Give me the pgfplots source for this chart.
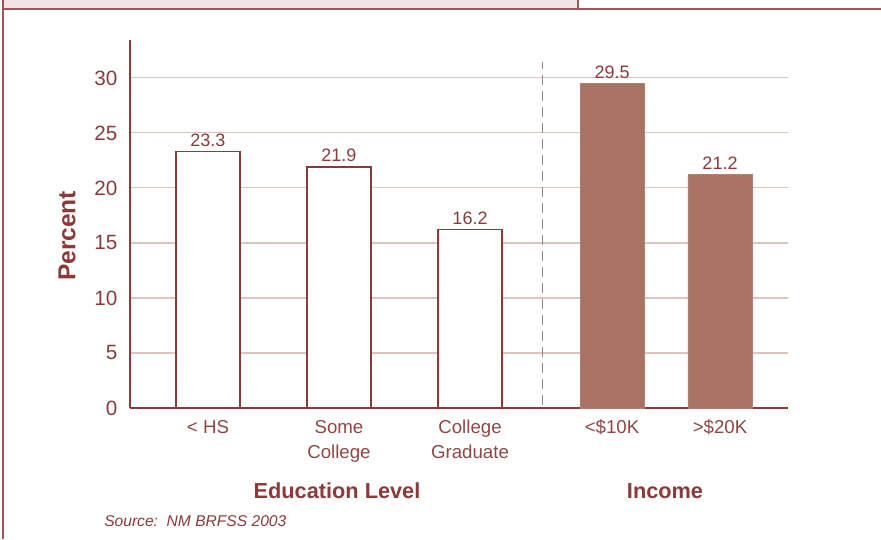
\documentclass[border=0pt]{standalone}
\usepackage{fontspec}
\setmainfont{Liberation Sans}
\usepackage{pgfplots}
\pgfplotsset{compat=1.18}
\definecolor{mred}{HTML}{8B3A3A}
\definecolor{lred}{HTML}{8F4745}
\definecolor{barfill}{HTML}{A87264}
\definecolor{gridc}{HTML}{DEC4BC}
\definecolor{tabfill}{HTML}{EFE3E3}
\definecolor{dashc}{HTML}{9A8484}
\pgfplotsset{/pgf/number format/assume math mode=true}
\begin{document}
\begin{tikzpicture}
\useasboundingbox (0,0) rectangle (660.75pt,404.25pt);
\fill[tabfill] (2.25pt,397.5pt) rectangle (433.5pt,404.25pt);
\draw[mred!85, line width=1.1pt] (2.25pt,0) -- (2.25pt,404.25pt);
\draw[mred!85, line width=1.1pt] (2.25pt,397.5pt) -- (660.75pt,397.5pt);
\draw[mred!85, line width=0.8pt] (433.5pt,397.5pt) -- (433.5pt,404.25pt);
\begin{axis}[
  at={(97.5pt,98.25pt)}, anchor=south west,
  scale only axis, width=493.5pt, height=276pt,
  xmin=-0.595, xmax=4.427, ymin=0, ymax=33.45,
  axis x line=bottom, axis y line=left,
  axis line style={mred, line width=1.5pt, -},
  major tick length=0pt,
  ytick={0,5,10,15,20,25,30},
  ymajorgrids, grid style={gridc, line width=0.8pt},
  xtick={0,1,2,3.084,3.908},
  xticklabels={{\strut < HS},{\strut Some\\\strut College},{\strut College\\\strut Graduate},{\strut <\$10K},{\strut >\$20K}},
  xticklabel style={align=center, anchor=north, font=\fontsize{14}{18.75}\selectfont, text=lred, yshift=-5pt, inner ysep=1pt},
  yticklabel style={font=\fontsize{15.5}{18}\selectfont, text=mred, xshift=-6pt},
  nodes near coords={\pgfmathprintnumber[fixed,fixed zerofill,precision=1]{\pgfplotspointmeta}},
  nodes near coords style={font=\fontsize{13.5}{16}\selectfont, text=mred, anchor=south, yshift=0pt},
  clip=false,
]
\addplot[ybar, bar width=0.489, fill=white, draw=mred, line width=1pt] coordinates {(0,23.3) (1,21.9) (2,16.2)};
\addplot[ybar, bar width=0.489, fill=barfill, draw=barfill!90!white, line width=0.6pt] coordinates {(3.084,29.5) (3.908,21.2)};
\draw[dashc, dash pattern=on 7.5pt off 4.5pt, line width=0.75pt] (axis cs:2.557,0.3) -- (axis cs:2.557,31.45);
\end{axis}
\node[rotate=90, font=\bfseries\fontsize{18.4}{20}\selectfont, text=mred] at (50.25pt,227.25pt) {Percent};
\node[font=\bfseries\fontsize{16.3}{19}\selectfont, text=mred] at (252.75pt,36pt) {Education Level};
\node[font=\bfseries\fontsize{16.3}{19}\selectfont, text=mred] at (498.75pt,36pt) {Income};
\node[anchor=west, inner sep=0pt, font=\itshape\fontsize{11.7}{14}\selectfont, text=mred] at (78pt,13.5pt) {Source:\ \ NM BRFSS 2003};
\end{tikzpicture}
\end{document}
